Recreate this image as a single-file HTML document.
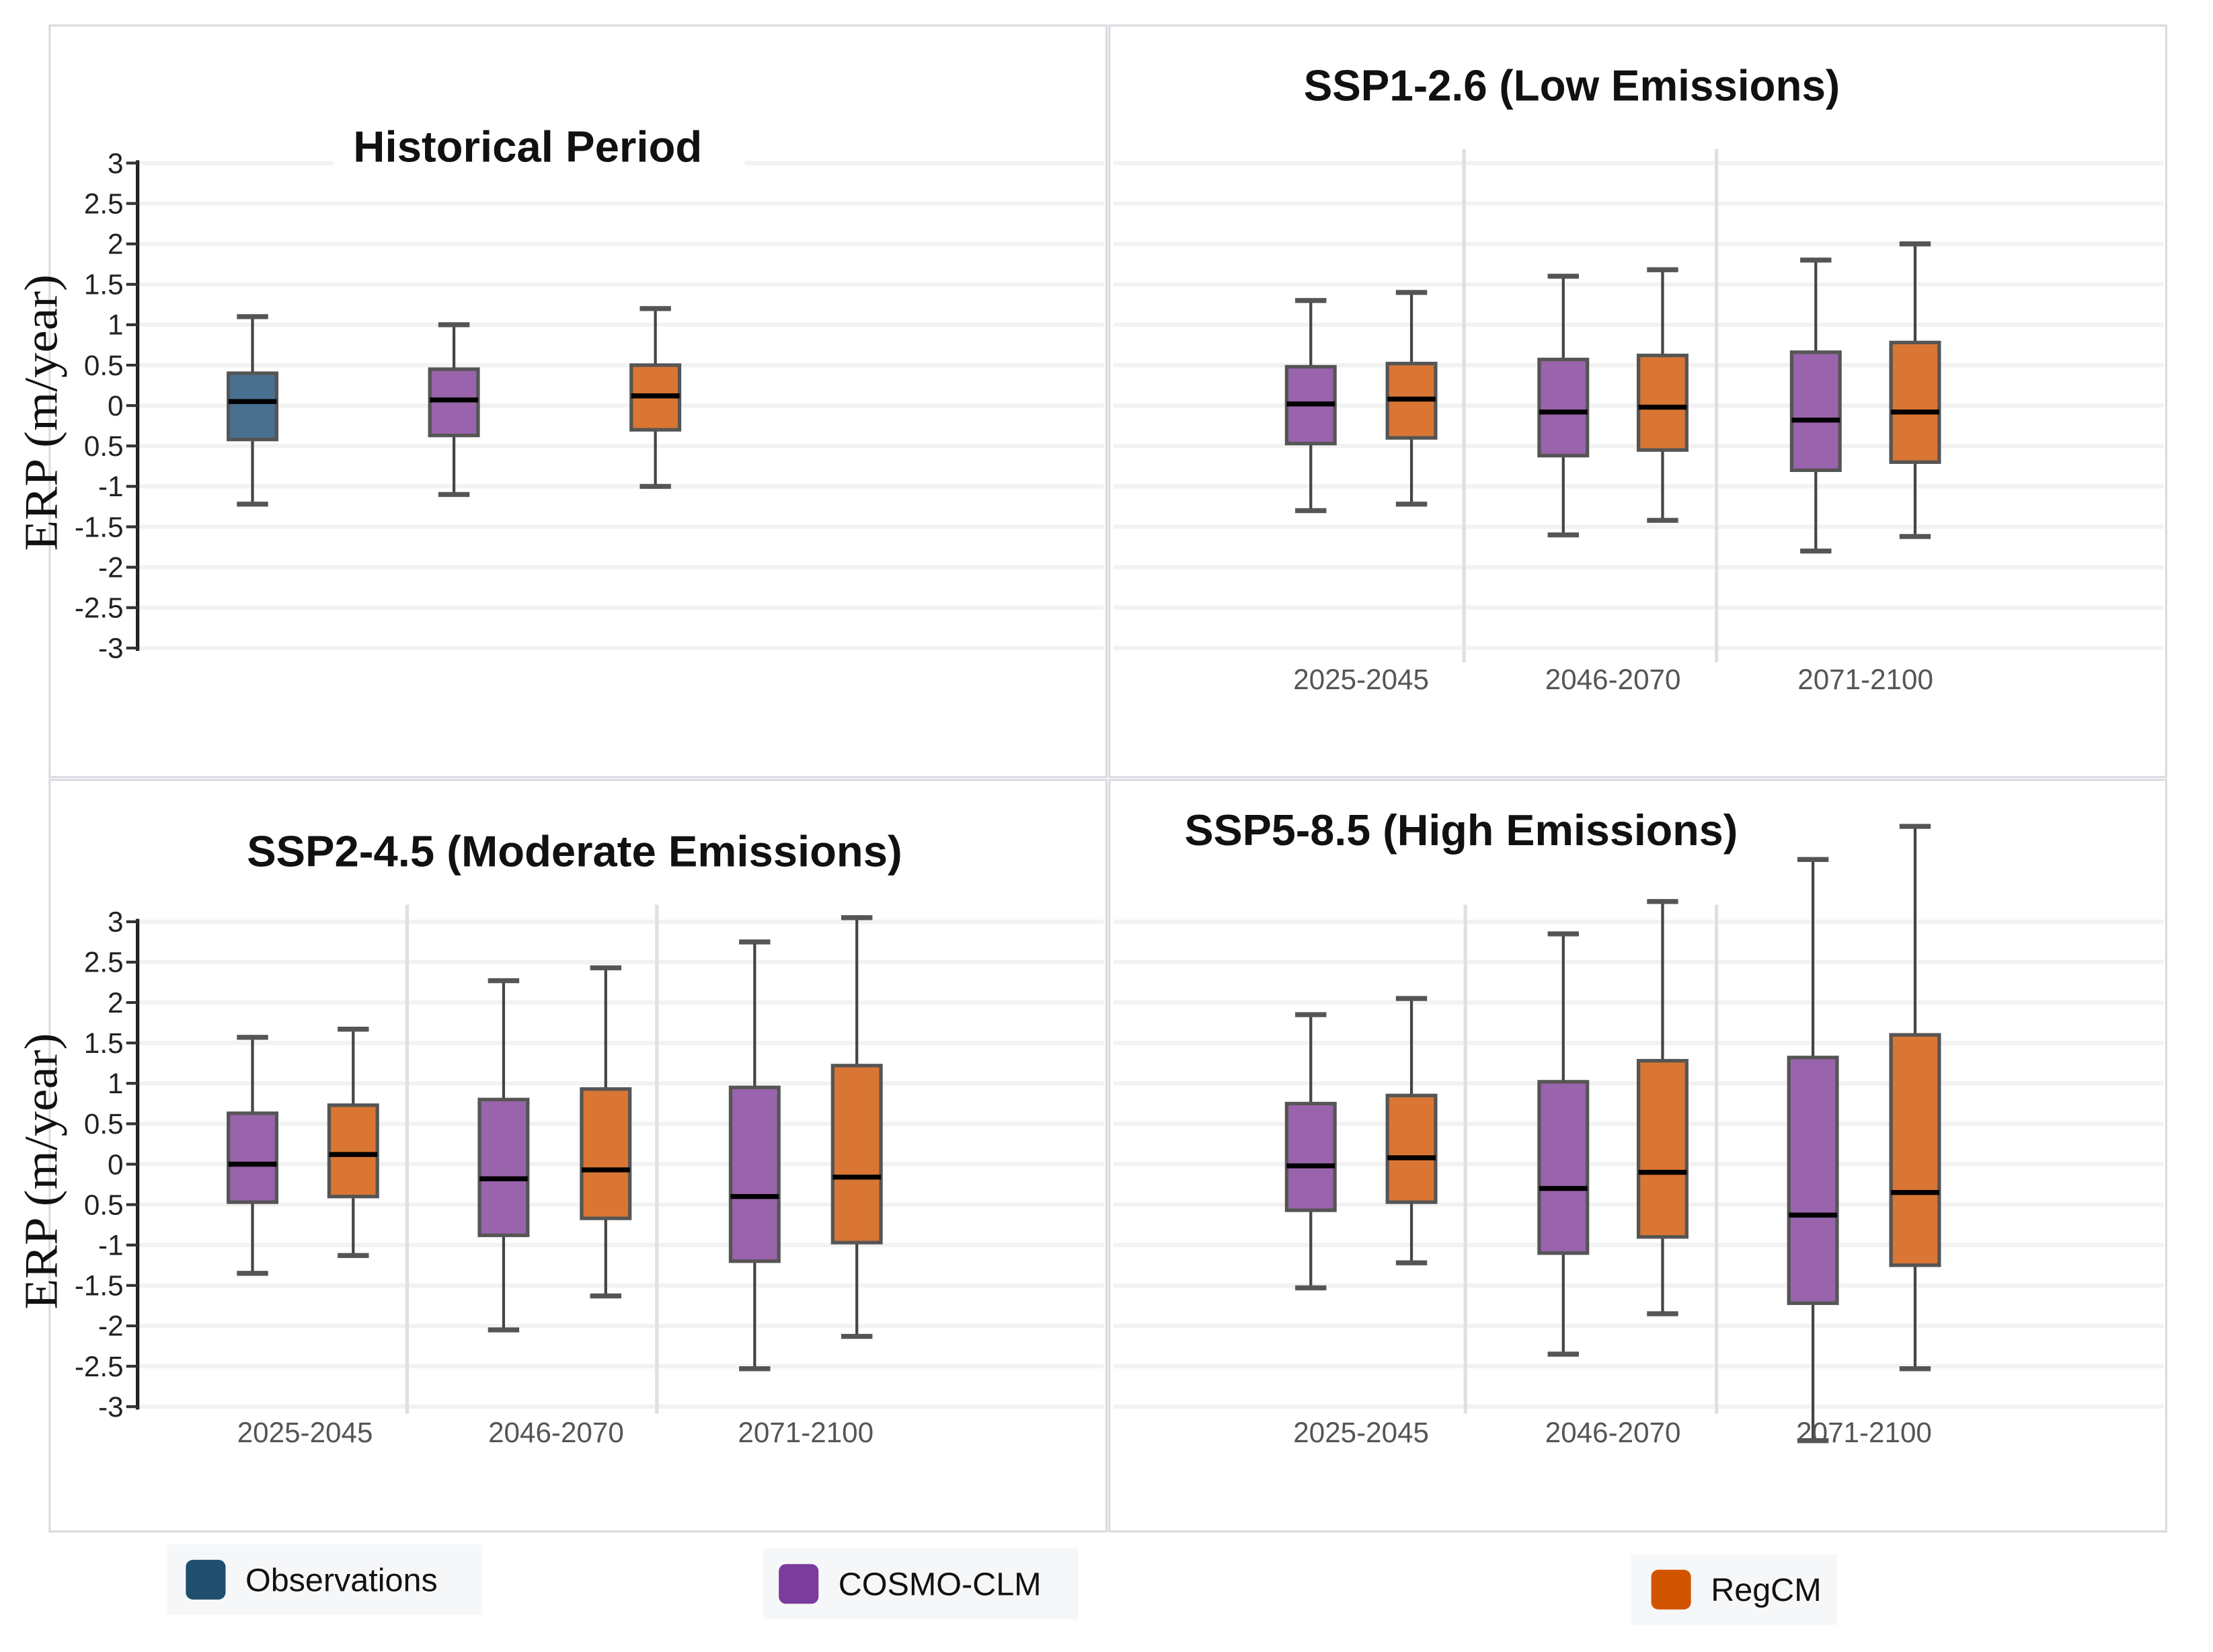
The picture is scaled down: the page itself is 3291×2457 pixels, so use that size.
<!DOCTYPE html>
<html><head><meta charset="utf-8"><style>
html,body{margin:0;padding:0;background:#fff;}
svg{display:block;}
text{font-family:"Liberation Sans",sans-serif;}
</style></head><body>
<svg id="chart" xmlns="http://www.w3.org/2000/svg" width="3291" height="2457" viewBox="0 0 1560 1165" preserveAspectRatio="none">
<g id="root"></g>
</svg>
<script>
// ---- data ----
const yTicks = [3,2.5,2,1.5,1,0.5,0,-0.5,-1,-1.5,-2,-2.5,-3];
const yTickLabels = ["3","2.5","2","1.5","1","0.5","0","0.5","-1","-1.5","-2","-2.5","-3"];
const periods = ["2025-2045","2046-2070","2071-2100"];
const histSeries = ["Observations","COSMO-CLM","RegCM"];
// box stats: [whiskerLow, q1, median, q3, whiskerHigh]
const histStats = [[-1.22,-0.42,0.05,0.4,1.1],[-1.1,-0.37,0.07,0.45,1.0],[-1.0,-0.3,0.12,0.5,1.2]];
const ssp126Cosmo = [[-1.3,-0.47,0.02,0.48,1.3],[-1.6,-0.62,-0.08,0.57,1.6],[-1.8,-0.8,-0.18,0.66,1.8]];
const ssp126Reg   = [[-1.22,-0.4,0.08,0.52,1.4],[-1.42,-0.55,-0.02,0.62,1.68],[-1.62,-0.7,-0.08,0.78,2.0]];
const ssp245Cosmo = [[-1.35,-0.47,0.0,0.63,1.57],[-2.05,-0.88,-0.18,0.8,2.27],[-2.53,-1.2,-0.4,0.95,2.75]];
const ssp245Reg   = [[-1.13,-0.4,0.12,0.73,1.67],[-1.63,-0.67,-0.07,0.93,2.43],[-2.13,-0.97,-0.16,1.22,3.05]];
const ssp585Cosmo = [[-1.53,-0.57,-0.02,0.75,1.85],[-2.35,-1.1,-0.3,1.02,2.85],[-3.42,-1.72,-0.63,1.32,3.77]];
const ssp585Reg   = [[-1.22,-0.47,0.08,0.85,2.05],[-1.85,-0.9,-0.1,1.28,3.25],[-2.53,-1.25,-0.35,1.6,4.18]];

const NS="http://www.w3.org/2000/svg";
const root=document.getElementById('root');
function mk(tag,attrs,parent){const e=document.createElementNS(NS,tag);for(const k in attrs)e.setAttribute(k,attrs[k]);(parent||root).appendChild(e);return e;}
const fills={"Observations":"#4a7090","COSMO-CLM":"#9964ab","RegCM":"#d97634"};

function panel(x0,y0,w,h){
  const r=mk('rect',{x:x0,y:y0,width:w,height:h,fill:'#fff',stroke:'#d9dbe0','stroke-width':1.5});
  
  
}
function yScaleFactory(top){return v=>top+(3-v)*57;}

function grid(ys,x1,x2){
  yTicks.forEach(t=>{
    const l=mk('line',{x1:x1,x2:x2,y1:ys(t),y2:ys(t),stroke:'#f2f2f2','stroke-width':3});
    
    
  });
}
function yAxis(ys,x){
  const g=mk('g',{});
  
  
  mk('line',{x1:x,x2:x,y1:ys(3)-2,y2:ys(-3)+2,stroke:'#222','stroke-width':2.5},g);
  yTicks.forEach((t,i)=>{
    mk('line',{x1:x-8,x2:x,y1:ys(t),y2:ys(t),stroke:'#333','stroke-width':2},g);
    const tx=mk('text',{x:x-10,y:ys(t)+7,'text-anchor':'end','font-size':20,fill:'#222'},g);
    tx.textContent=yTickLabels[i];
    
    
  });
  const lbl=mk('text',{x:0,y:0,transform:`translate(40,${(ys(3)+ys(-3))/2+5}) rotate(-90)`,'text-anchor':'middle','font-size':33,fill:'#111',textLength:195,lengthAdjust:'spacingAndGlyphs',style:'font-family:"Liberation Serif",serif'},g);
  lbl.textContent='ERP (m/year)';
  
  
}
function box(ys,cx,s,series){
  const g=mk('g',{});
  
  
  const hw=17;
  mk('line',{x1:cx,x2:cx,y1:ys(s[4]),y2:ys(s[0]),stroke:'#444','stroke-width':2},g);
  mk('line',{x1:cx-11,x2:cx+11,y1:ys(s[4]),y2:ys(s[4]),stroke:'#555','stroke-width':3.5},g);
  mk('line',{x1:cx-11,x2:cx+11,y1:ys(s[0]),y2:ys(s[0]),stroke:'#555','stroke-width':3.5},g);
  mk('rect',{x:cx-hw,y:ys(s[3]),width:2*hw,height:ys(s[1])-ys(s[3]),fill:fills[series],stroke:'#555','stroke-width':2.5},g);
  mk('line',{x1:cx-hw,x2:cx+hw,y1:ys(s[2]),y2:ys(s[2]),stroke:'#000','stroke-width':3.5},g);
}
function title(txt,x,y,name,len){
  const t=mk('text',{x:x,y:y,'text-anchor':'middle','font-size':31,'font-weight':'bold',fill:'#111',textLength:len,lengthAdjust:'spacingAndGlyphs'});
  t.textContent=txt;
  
  
}
function sepLines(xs,y1,y2){
  xs.forEach(x=>{
    const l=mk('line',{x1:x,x2:x,y1:y1,y2:y2,stroke:'#e0e0e0','stroke-width':2.5});
    
    
  });
}
function xLabels(centers,y){
  periods.forEach((p,i)=>{
    const t=mk('text',{x:centers[i],y:y,'text-anchor':'middle','font-size':20,fill:'#555'});
    t.textContent=p;
    
    
  });
}
function scenario(ys,cosmo,reg,cosmoX,regX,seps,sepTop,sepBot,labY){
  grid(ys,785,1525);
  sepLines(seps,sepTop,sepBot);
  periods.forEach((p,i)=>{box(ys,cosmoX[i],cosmo[i],'COSMO-CLM');box(ys,regX[i],reg[i],'RegCM');});
  xLabels(cosmoX.map((c,i)=>(c+regX[i])/2),labY);
}

// panels
panel(35,18,745,530); panel(782,18,745,530);
panel(35,550,745,530); panel(782,550,745,530);

// Historical
const ysTop=yScaleFactory(115);
grid(ysTop,97,778);
yAxis(ysTop,97);
const hx=[178,320,462];
histSeries.forEach((s,i)=>box(ysTop,hx[i],histStats[i],s));
mk('rect',{x:235,y:80,width:290,height:38,fill:'#fff'});
title('Historical Period',372,114,'historical-title',246);

// SSP1-2.6
scenario(ysTop,ssp126Cosmo,ssp126Reg,[924,1102,1280],[995,1172,1350],[1032,1210],105,467,486);
title('SSP1-2.6 (Low Emissions)',1108,71,'ssp126-title',378);

// SSP2-4.5
const ysBot=yScaleFactory(650);
grid(ysBot,97,778);
yAxis(ysBot,97);
sepLines([287,463],638,997);
const c2=[178,355,532], r2=[249,427,604];
periods.forEach((p,i)=>{box(ysBot,c2[i],ssp245Cosmo[i],'COSMO-CLM');box(ysBot,r2[i],ssp245Reg[i],'RegCM');});
xLabels([215,392,568],1017);
title('SSP2-4.5 (Moderate Emissions)',405,611,'ssp245-title',462);

// SSP5-8.5
scenario(ysBot,ssp585Cosmo,ssp585Reg,[924,1102,1278],[995,1172,1350],[1033,1210],638,997,1017);
title('SSP5-8.5 (High Emissions)',1030,596,'ssp585-title',390);

// legend
const legend=[["Observations",118,222,145,"#1f4e6e"],["COSMO-CLM",538,222,563,"#7b3c9c"],["RegCM",1150,145,1178,"#d35400"]];
legend.forEach((l,i)=>{
  const g=mk('g',{});
  
  
  const yc=[1114,1117,1121][i];
  mk('rect',{x:l[1],y:yc-25,width:l[2],height:50,fill:'#f6f7f9'},g);
  mk('rect',{x:l[3]-14,y:yc-14,width:28,height:28,rx:5,fill:l[4]},g);
  const t=mk('text',{x:l[3]+28,y:yc+8,'font-size':23,fill:'#111','font-weight':'500'},g);
  t.textContent=l[0];
});
</script>
</body></html>
